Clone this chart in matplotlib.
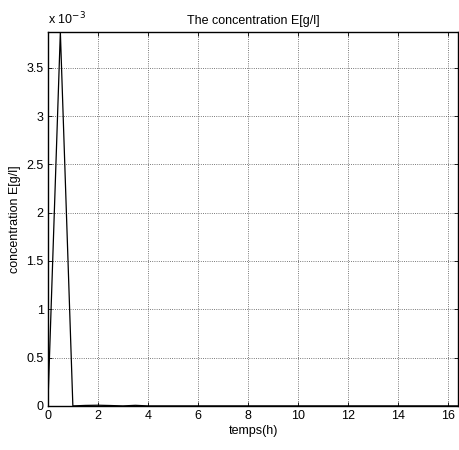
import matplotlib.pyplot as plt

plt.rcParams['font.family'] = ['Liberation Sans', 'DejaVu Sans']

# temps (h) et concentration E (g/l)
temps = [0, 0.5, 1.0, 1.5, 2.0, 2.5, 3.0, 3.5, 4.0, 4.5, 5.0, 5.5, 6.0,
         6.5, 7.0, 7.5, 8.0, 8.5, 9.0, 9.5, 10.0, 10.5, 11.0, 11.5, 12.0,
         12.5, 13.0, 13.5, 14.0, 14.5, 15.0, 15.5, 16.0, 16.5]
conc_E = [0.0, 3.87e-3, 0.0, 0.005e-3, 0.007e-3, 0.004e-3, 0.0, 0.006e-3,
          0.0, 0.0, 0.0, 0.0, 0.0, 0.0, 0.0, 0.0, 0.0, 0.0, 0.0, 0.0, 0.0,
          0.0, 0.0, 0.0, 0.0, 0.0, 0.0, 0.0, 0.0, 0.0, 0.0, 0.0, 0.0, 0.0]
x_ticks = [0, 2, 4, 6, 8, 10, 12, 14, 16]
y_ticks = [0, 0.5, 1, 1.5, 2, 2.5, 3, 3.5]
scale = 1e-3

fig = plt.figure(figsize=(4.6, 4.5), dpi=100)
ax = fig.add_axes([0.104, 0.098, 0.892, 0.831])

ax.plot(temps, [v / scale for v in conc_E], color='black', linewidth=0.9)

ax.set_xlim(0, 16.4)
ax.set_ylim(0, max(conc_E) / scale)
ax.set_xticks(x_ticks)
ax.set_yticks(y_ticks)
ax.set_yticklabels(['0', '0.5', '1', '1.5', '2', '2.5', '3', '3.5'])
ax.tick_params(direction='in', top=True, right=True, length=3, width=0.6,
               labelsize=9, pad=3)
ax.grid(True, color='0.3', linestyle=':', linewidth=0.6)
for sp in ax.spines.values():
    sp.set_linewidth(1.0)

ax.set_title('The concentration E[g/l]', fontsize=9, pad=6)
ax.set_xlabel('temps(h)', fontsize=9, labelpad=2)
ax.set_ylabel('concentration E[g/l]', fontsize=9, labelpad=4)
ax.text(0.0, 1.012, r'x 10$^{-3}$', transform=ax.transAxes, fontsize=9,
        ha='left', va='bottom')

fig.savefig('out.png', dpi=100)
